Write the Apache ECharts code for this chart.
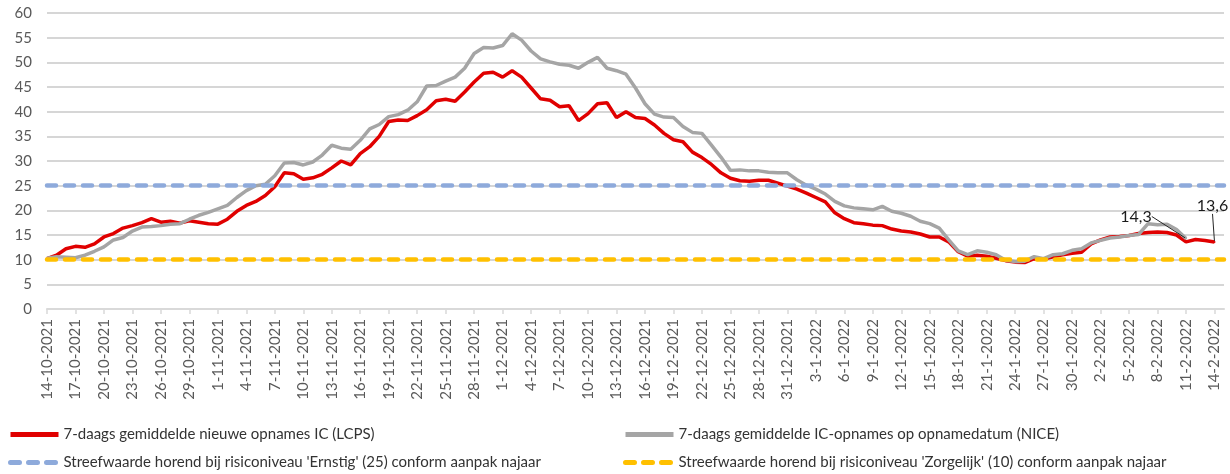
<!DOCTYPE html>
<html>
<head>
<meta charset="utf-8">
<script src="https://cdn.jsdelivr.net/npm/echarts@6/dist/echarts.min.js"></script>
<style>
html,body{margin:0;padding:0;background:#fff;}
#chart{width:1230px;height:474px;}
</style>
</head>
<body>
<div id="chart"></div>
<script>
// Categories: daily dates 14-10-2021 .. 14-2-2022 (plus one trailing day of axis room)
var startDate = [2021, 10, 14];
var dayCount = 125;
var categories = [];
for (var k = 0; k < dayCount; k++) {
  var dt = new Date(Date.UTC(startDate[0], startDate[1] - 1, startDate[2] + k));
  categories.push(dt.getUTCDate() + '-' + (dt.getUTCMonth() + 1) + '-' + dt.getUTCFullYear());
}

var lcps = [10.2,10.9,12.2,12.7,12.5,13.2,14.6,15.3,16.4,16.9,
  17.5,18.3,17.6,17.8,17.4,17.9,17.6,17.3,17.2,18.2,
  19.8,21.0,21.8,23.0,24.8,27.6,27.4,26.3,26.6,27.3,
  28.6,30.0,29.2,31.5,32.9,35.0,38.0,38.3,38.2,39.2,
  40.4,42.2,42.5,42.1,44.0,46.0,47.8,48.0,47.0,48.3,
  47.0,44.8,42.6,42.3,41.0,41.2,38.2,39.6,41.6,41.8,
  38.8,40.0,38.8,38.6,37.3,35.6,34.3,33.9,31.8,30.7,
  29.3,27.6,26.5,26.0,25.9,26.1,26.1,25.5,24.9,24.3,
  23.5,22.6,21.7,19.5,18.3,17.5,17.3,17.0,16.9,16.2,
  15.8,15.6,15.2,14.6,14.6,13.6,11.6,10.7,10.9,10.7,
  10.3,9.8,9.5,9.4,10.2,10.1,10.6,11.0,11.3,11.5,
  13.2,14.0,14.6,14.7,14.9,15.3,15.5,15.6,15.5,15.0,
  13.6,14.1,13.9,13.6];

var nice = [10.3,10.6,10.5,10.4,10.9,11.7,12.6,14.0,14.5,15.8,
  16.6,16.7,16.9,17.2,17.3,18.2,19.0,19.6,20.3,21.0,
  22.6,24.0,25.0,25.3,27.0,29.6,29.7,29.2,29.8,31.2,
  33.2,32.6,32.4,34.2,36.5,37.4,39.0,39.4,40.3,42.0,
  45.2,45.3,46.2,47.0,48.8,51.8,53.0,52.9,53.4,55.8,
  54.5,52.3,50.7,50.1,49.6,49.4,48.8,50.0,51.0,48.8,
  48.3,47.6,44.8,41.6,39.5,38.9,38.8,37.0,35.8,35.6,
  33.2,30.8,28.1,28.2,28.0,28.0,27.7,27.6,27.6,26.2,
  25.1,24.3,23.3,21.8,20.9,20.5,20.3,20.1,20.8,19.8,
  19.4,18.8,17.8,17.3,16.4,14.0,11.8,11.0,11.8,11.5,
  11.0,9.9,9.6,9.7,10.6,10.2,11.0,11.2,11.9,12.2,
  13.4,13.9,14.4,14.6,14.9,15.1,17.3,17.1,17.2,16.1,
  14.3];

var thresholdErnstig = 25;
var thresholdZorgelijk = 10;

var seriesNames = [
  '7-daags gemiddelde nieuwe opnames IC (LCPS)',
  '7-daags gemiddelde IC-opnames op opnamedatum (NICE)',
  "Streefwaarde horend bij risiconiveau 'Ernstig' (25) conform aanpak najaar",
  "Streefwaarde horend bij risiconiveau 'Zorgelijk' (10) conform aanpak najaar"
];

var FONT = 'Lato';
function commaFmt(p) { return String(p.value).replace('.', ','); }
function withLastLabel(arr, color) {
  return arr.map(function (v, i) {
    return i === arr.length - 1
      ? { value: v, symbol: 'circle', symbolSize: 2, itemStyle: { color: color }, label: { show: true } }
      : v;
  });
}

var chart = echarts.init(document.getElementById('chart'), null, { renderer: 'canvas' });
var dashStyle = [9, 9];

var legendCommon = {
  orient: 'vertical', itemGap: 13, top: 427, padding: 0,
  itemWidth: 48, itemHeight: 14,
  itemStyle: { opacity: 0 },
  lineStyle: { width: 5 },
  textStyle: { fontFamily: FONT, fontSize: 15, color: '#333333' }
};

chart.setOption({
  animation: false,
  backgroundColor: '#ffffff',
  textStyle: { fontFamily: FONT },
  grid: { left: 47, right: 6, top: 13, bottom: 165, containLabel: false },
  legend: [
    Object.assign({}, legendCommon, { left: 8, data: [seriesNames[0], seriesNames[2]] }),
    Object.assign({}, legendCommon, { left: 623, data: [seriesNames[1], seriesNames[3]] })
  ],
  xAxis: {
    type: 'category',
    data: categories,
    boundaryGap: false,
    axisLine: { lineStyle: { color: '#d9d9d9', width: 2 } },
    axisTick: { show: true, interval: 2, length: 5, lineStyle: { color: '#d9d9d9', width: 1.5 } },
    axisLabel: { interval: 2, rotate: 90, margin: 10, fontSize: 15, color: '#595959', fontFamily: FONT },
    splitLine: { show: false }
  },
  yAxis: {
    type: 'value',
    min: 0, max: 60, interval: 5,
    axisLine: { show: false },
    axisTick: { show: false },
    axisLabel: { fontSize: 15, color: '#595959', margin: 15, fontFamily: FONT },
    splitLine: { lineStyle: { color: '#d6d6d6', width: 2 } }
  },
  series: [
    {
      name: seriesNames[0], type: 'line', data: withLastLabel(lcps, '#e00000'),
      symbol: 'none', showSymbol: true, smooth: false,
      lineStyle: { color: '#e00000', width: 3.5 },
      itemStyle: { color: '#e00000' },
      label: { show: false, position: 'top', formatter: commaFmt, fontSize: 16, color: '#1a1a1a', fontFamily: FONT },
      labelLayout: { dx: -2, dy: -22 },
      labelLine: { show: true, lineStyle: { color: '#262626', width: 1 } },
      z: 2
    },
    {
      name: seriesNames[1], type: 'line', data: withLastLabel(nice, '#a5a5a5'),
      symbol: 'none', showSymbol: true, smooth: false,
      lineStyle: { color: '#a5a5a5', width: 3.5 },
      itemStyle: { color: '#a5a5a5' },
      label: { show: false, position: 'top', formatter: commaFmt, fontSize: 16, color: '#1a1a1a', fontFamily: FONT },
      labelLayout: { dx: -50, dy: -8 },
      labelLine: { show: true, lineStyle: { color: '#262626', width: 1 } },
      z: 3
    },
    {
      name: seriesNames[2], type: 'line', data: [],
      symbol: 'none',
      lineStyle: { color: '#8eaadb', width: 4.5, type: dashStyle, cap: 'round' },
      itemStyle: { color: '#8eaadb' },
      markLine: {
        silent: true, symbol: 'none', label: { show: false },
        lineStyle: { color: '#8eaadb', width: 4.5, type: dashStyle, cap: 'round' },
        data: [{ yAxis: thresholdErnstig }]
      },
      z: 4
    },
    {
      name: seriesNames[3], type: 'line', data: [],
      symbol: 'none',
      lineStyle: { color: '#ffc000', width: 4.5, type: dashStyle, cap: 'round' },
      itemStyle: { color: '#ffc000' },
      markLine: {
        silent: true, symbol: 'none', label: { show: false },
        lineStyle: { color: '#ffc000', width: 4.5, type: dashStyle, cap: 'round' },
        data: [{ yAxis: thresholdZorgelijk }]
      },
      z: 4
    }
  ]
});
</script>
</body>
</html>
